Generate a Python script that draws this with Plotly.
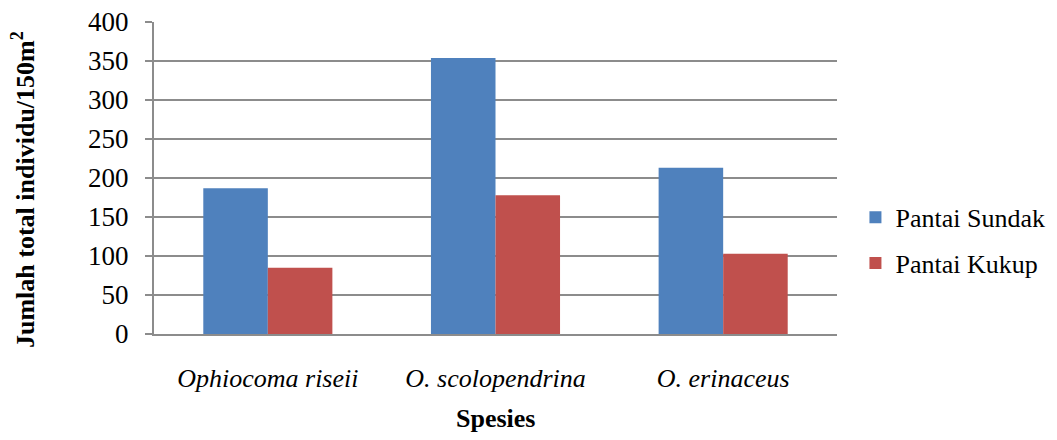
import plotly.graph_objects as go

categories = ["Ophiocoma riseii", "O. scolopendrina", "O. erinaceus"]
sundak = [187, 354, 213]
kukup = [85, 178, 103]
y_ticks = [0, 50, 100, 150, 200, 250, 300, 350, 400]

cat_labels = ["<i>%s</i>" % c for c in categories]

fig = go.Figure()
fig.add_trace(go.Bar(x=cat_labels, y=sundak, name="Pantai Sundak",
                     marker=dict(color="#4F81BD", line=dict(width=0)),
                     legendgroup="a"))
fig.add_trace(go.Bar(x=cat_labels, y=kukup, name="Pantai Kukup",
                     marker=dict(color="#C0504D", line=dict(width=0)),
                     legendgroup="b"))

font_family = "Liberation Serif, Times New Roman, Times, serif"
fig.update_layout(
    width=1041, height=424,
    margin=dict(l=146, r=212, t=14, b=98, autoexpand=False),
    paper_bgcolor="white", plot_bgcolor="white",
    barmode="group", bargap=0.433, bargroupgap=0,
    font=dict(family=font_family, size=26, color="black"),
    showlegend=True,
    legend=dict(x=1.027, y=0.30, xanchor="left", yanchor="middle",
                font=dict(family=font_family, size=26, color="black"),
                traceorder="grouped", tracegroupgap=9,
                itemwidth=30, bgcolor="rgba(0,0,0,0)"),
    xaxis=dict(showgrid=False, showline=True, linecolor="#8c8c8c", linewidth=2,
               ticks="", tickfont=dict(family=font_family, size=26, color="black"),
               ticklabelstandoff=20, automargin=False),
    yaxis=dict(range=[0, 400], tickvals=y_ticks, showgrid=True,
               gridcolor="#8c8c8c", gridwidth=2, automargin=False,
               showline=True, linecolor="#8c8c8c", linewidth=2,
               ticks="outside", ticklen=7, tickcolor="#8c8c8c", tickwidth=2,
               tickfont=dict(family=font_family, size=27, color="black"),
               ticklabelstandoff=11, ticklabeloverflow="allow", zeroline=False),
    annotations=[
        dict(text="<b>Jumlah total individu/150m<sup>2</sup></b>",
             xref="paper", yref="paper", x=-0.1918, y=0.4615,
             xanchor="center", yanchor="middle", textangle=-90,
             showarrow=False,
             font=dict(family=font_family, size=26, color="black")),
        dict(text="<b>Spesies</b>",
             xref="paper", yref="paper", x=0.5, y=-0.27,
             xanchor="center", yanchor="middle",
             showarrow=False,
             font=dict(family=font_family, size=26, color="black")),
    ],
)

fig.write_html("out.html")
